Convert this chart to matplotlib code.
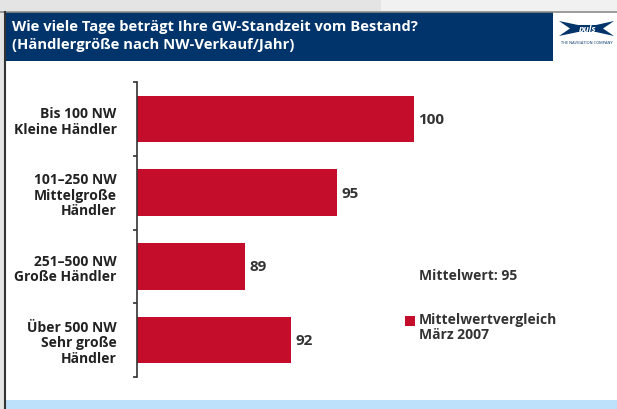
import matplotlib

matplotlib.use("Agg")
import matplotlib.pyplot as plt
from matplotlib.patches import Polygon, Rectangle

categories = [
    "Bis 100 NW\nKleine Händler",
    "101–250 NW\nMittelgroße\nHändler",
    "251–500 NW\nGroße Händler",
    "Über 500 NW\nSehr große\nHändler",
]
values = [100, 95, 89, 92]
title_lines = [
    "Wie viele Tage beträgt Ihre GW-Standzeit vom Bestand?",
    "(Händlergröße nach NW-Verkauf/Jahr)",
]
mean_text = "Mittelwert: 95"
legend_text = "Mittelwertvergleich\nMärz 2007"

W, H = 617, 410
BAR = "#c30d2a"
NAVY = "#00346b"
TEXT = "#333333"
FONT = "Open Sans"

plt.rcParams["font.family"] = [FONT, "DejaVu Sans"]


def fx(x):
    return x / W


def fy(y):
    return 1 - y / H


fig = plt.figure(figsize=(W / 100, H / 100), dpi=100)
fig.patch.set_facecolor("white")

# page frame
fig.patches.append(Rectangle((0, fy(12)), fx(381), 12 / H, transform=fig.transFigure,
                             facecolor="#e4e4e4", edgecolor="none"))
fig.patches.append(Rectangle((fx(381), fy(12)), 1 - fx(381), 12 / H, transform=fig.transFigure,
                             facecolor="#f1f1f1", edgecolor="none"))
fig.patches.append(Rectangle((0, 0), fx(4), fy(12), transform=fig.transFigure,
                             facecolor="#e4e4e4", edgecolor="none"))
fig.add_artist(plt.Line2D([0, 1], [fy(12.5), fy(12.5)], transform=fig.transFigure,
                          color="#8a8a8a", lw=1.2))
fig.add_artist(plt.Line2D([fx(4.5), fx(4.5)], [0, fy(12.5)], transform=fig.transFigure,
                          color="#333333", lw=1.5))
fig.patches.append(Rectangle((fx(5), 0), 1 - fx(5), 9 / H, transform=fig.transFigure,
                             facecolor="#bde0fb", edgecolor="none"))

# header
fig.patches.append(Rectangle((fx(5), fy(62)), fx(553 - 5), 49 / H, transform=fig.transFigure,
                             facecolor=NAVY, edgecolor="none"))
for i, line in enumerate(title_lines):
    fig.text(fx(12), fy(27 + i * 18), line, color="white", fontsize=10.6,
             fontweight="bold", va="center", ha="left")

# logo
logo = [(559, 22), (578, 26), (596, 26), (614, 22), (603, 29.5), (614, 37),
        (596, 33), (578, 33), (559, 37), (570, 29.5)]
fig.patches.append(Polygon([(fx(x), fy(y)) for x, y in logo], closed=True,
                           transform=fig.transFigure, facecolor=NAVY, edgecolor="none"))
fig.text(fx(587), fy(29.5), "puls", color="white", fontsize=6.5, fontweight="bold",
         fontstyle="italic", ha="center", va="center")
fig.text(fx(587), fy(43), "THE NAVIGATION COMPANY", color=NAVY, fontsize=2.8,
         ha="center", va="center")

# bar chart
x0, x1 = 82, 112
ax = fig.add_axes([fx(136.7), fy(378), fx(15.4 * (x1 - x0)), (378 - 83) / H])
ax.set_facecolor("none")
ypos = list(range(len(values)))
ax.barh(ypos, [v - x0 for v in values], left=x0, height=0.63, color=BAR)
ax.set_xlim(x0, x1)
ax.set_ylim(len(values) - 0.5, -0.5)
for y, v in zip(ypos, values):
    ax.text(v + 0.3, y, str(v), color=TEXT, fontsize=11, fontweight="bold",
            va="center", ha="left")

for side in ("top", "right", "bottom"):
    ax.spines[side].set_visible(False)
ax.spines["left"].set_color("#333333")
ax.spines["left"].set_linewidth(1.2)
ax.set_xticks([])
ax.set_yticks(ypos)
ax.set_yticklabels(categories, fontsize=10, fontweight="bold", color="#222222",
                   linespacing=1.12)
ax.tick_params(axis="y", which="major", length=0, pad=14.4)
ax.set_yticks([y - 0.5 for y in range(len(values) + 1)], minor=True)
ax.tick_params(axis="y", which="minor", length=3, width=1.2, color="#333333")

# side notes
fig.text(fx(419), fy(276), mean_text, color=TEXT, fontsize=10, fontweight="bold",
         va="center", ha="left")
fig.patches.append(Rectangle((fx(405), fy(327)), 10 / W, 10 / H, transform=fig.transFigure,
                             facecolor=BAR, edgecolor="none"))
fig.text(fx(419), fy(313), legend_text, color=TEXT, fontsize=10, fontweight="bold",
         va="top", ha="left", linespacing=1.1)

fig.savefig("out.png", dpi=100)
